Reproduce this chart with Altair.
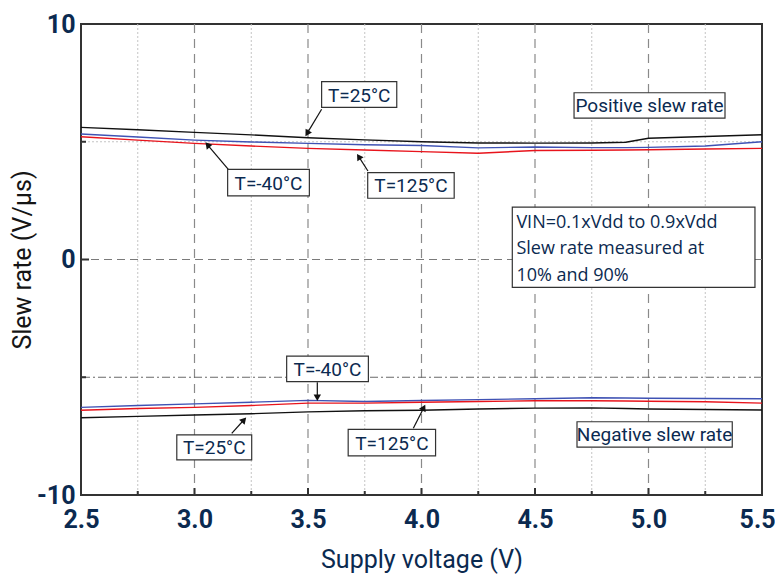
import math
import altair as alt
import pandas as pd

# ---------------- data ----------------
volts = [2.5, 2.75, 3.0, 3.25, 3.5, 3.75, 4.0, 4.25, 4.5, 4.75, 4.9, 5.0, 5.25, 5.5]

pos_25 = [5.61, 5.51, 5.40, 5.29, 5.17, 5.08, 5.00, 4.95, 4.94, 4.95, 4.98, 5.15, 5.22, 5.30]
pos_m40 = [5.33, 5.20, 5.07, 4.99, 4.93, 4.87, 4.84, 4.74, 4.78, 4.75, 4.75, 4.76, 4.82, 5.00]
pos_125 = [5.21, 5.07, 4.93, 4.82, 4.72, 4.65, 4.58, 4.51, 4.63, 4.64, 4.65, 4.66, 4.69, 4.72]

neg_25 = [-6.72, -6.66, -6.60, -6.55, -6.47, -6.42, -6.40, -6.35, -6.31, -6.30, -6.33, -6.35, -6.37, -6.39]
neg_m40 = [-6.28, -6.20, -6.13, -6.06, -5.98, -6.03, -5.99, -5.95, -5.91, -5.87, -5.88, -5.89, -5.90, -5.91]
neg_125 = [-6.40, -6.33, -6.28, -6.20, -6.10, -6.10, -6.06, -6.03, -6.00, -6.00, -6.01, -6.02, -6.04, -6.10]

temps = ["T=25°C", "T=-40°C", "T=125°C"]
temp_colors = ["#111111", "#3f52b4", "#e8141c"]

x_labels = [2.5, 3.0, 3.5, 4.0, 4.5, 5.0, 5.5]
x_minor = [2.75, 3.25, 3.75, 4.25, 4.75, 5.25]
x_major_grid = [3.0, 3.5, 4.0, 4.5, 5.0]
y_labels = [-10, 0, 10]
y_major_ticks = [-10, 0, 10]
y_minor_ticks = [-5, 5]

# annotation boxes: label, x1, x2, y1, y2 (data units)
box_text = ["T=25°C", "Positive slew rate", "T=125°C", "T=-40°C",
            "T=-40°C", "T=25°C", "T=125°C", "Negative slew rate"]
box_x1 = [3.560, 4.672, 3.763, 3.146, 3.406, 2.922, 3.677, 4.685]
box_x2 = [3.891, 5.337, 4.144, 3.506, 3.766, 3.252, 4.062, 5.369]
box_y1 = [7.55, 7.08, 3.69, 3.83, -4.10, -7.45, -7.21, -6.89]
box_y2 = [6.46, 6.00, 2.60, 2.70, -5.19, -8.51, -8.34, -7.97]

# arrows: start -> tip
arr_x1 = [3.560, 3.764, 3.149, 3.541, 3.164, 3.964]
arr_y1 = [6.38, 3.76, 3.83, -5.21, -7.38, -7.17]
arr_x2 = [3.487, 3.714, 3.046, 3.541, 3.230, 4.018]
arr_y2 = [5.21, 4.51, 5.00, -6.04, -6.68, -6.14]

note_lines = ["VIN=0.1xVdd to 0.9xVdd", "Slew rate measured at", "10% and 90%"]
note_y = [1.54, 0.46, -0.68]
note_x = 4.418
note_box = (4.400, 5.469, 2.22, -1.18)

# ---------------- layout ----------------
W, H = 681, 471
PX_X = W / 3.0
PX_Y = H / 20.0
NAVY = "#0b2a50"
FONT = "Roboto"

rows = []
for sign, series in (("pos", [pos_25, pos_m40, pos_125]), ("neg", [neg_25, neg_m40, neg_125])):
    for t, vals in zip(temps, series):
        for v, s in zip(volts, vals):
            rows.append({"V": v, "S": s, "T": t, "grp": sign + t})
df = pd.DataFrame(rows)

xs = alt.Scale(domain=[2.5, 5.5], nice=False, zero=False)
ys = alt.Scale(domain=[-10, 10], nice=False, zero=False)

X = alt.X("V:Q", scale=xs, axis=alt.Axis(
    values=x_labels, format=".1f", ticks=False, domain=False, grid=False,
    labelFont=FONT, labelFontSize=25, labelFontWeight="bold", labelColor=NAVY,
    labelPadding=12, labelFlush=False,
    labelAlign=alt.condition("datum.value == 5.5", alt.value("right"), alt.value("center")),
    labelOffset=alt.condition("datum.value == 5.5", alt.value(13), alt.value(0)),
    title="Supply voltage (V)", titleFont=FONT, titleFontSize=25,
    titleFontWeight="normal", titleColor=NAVY, titlePadding=15))
Y = alt.Y("S:Q", scale=ys, axis=alt.Axis(
    values=y_labels, ticks=False, domain=False, grid=False,
    labelExpr="datum.value < 0 ? '-' + abs(datum.value) : '' + datum.value",
    labelFont=FONT, labelFontSize=25, labelFontWeight="bold", labelColor=NAVY,
    labelPadding=6, labelFlush=False,
    title="Slew rate (V/µs)", titleFont=FONT, titleFontSize=25,
    titleFontWeight="normal", titleColor="#151515", titlePadding=1))

def vx(vals, name="V"):
    return pd.DataFrame({name: vals})

# grid
g_xminor = alt.Chart(vx(x_minor)).mark_rule(color="#c4c4c4", strokeDash=[2, 2], strokeWidth=1).encode(
    x=alt.X("V:Q", scale=xs))
g_xmajor = alt.Chart(vx(x_major_grid)).mark_rule(color="#8a8a8a", strokeDash=[9, 6], strokeWidth=1.2).encode(
    x=alt.X("V:Q", scale=xs))
g_y5 = alt.Chart(vx([5], "S")).mark_rule(color="#c4c4c4", strokeDash=[2, 2], strokeWidth=1).encode(
    y=alt.Y("S:Q", scale=ys))
g_y0 = alt.Chart(vx([0], "S")).mark_rule(color="#7a7a7a", strokeDash=[8, 5], strokeWidth=1.1).encode(
    y=alt.Y("S:Q", scale=ys))
g_ym5 = alt.Chart(vx([-5], "S")).mark_rule(color="#6a6a6a", strokeDash=[8, 3, 2, 3], strokeWidth=1.1).encode(
    y=alt.Y("S:Q", scale=ys))

# data lines
lines = alt.Chart(df).mark_line(strokeWidth=1.4).encode(
    x=X, y=Y,
    color=alt.Color("T:N", scale=alt.Scale(domain=temps, range=temp_colors), legend=None),
    detail="grp:N", order="V:Q")

# ticks (inward)
t_xmaj = alt.Chart(vx(x_labels)).mark_rule(color="#333333", strokeWidth=2).encode(
    x=alt.X("V:Q", scale=xs), y=alt.value(H), y2=alt.value(H - 7))
t_xmin = alt.Chart(vx(x_minor)).mark_rule(color="#333333", strokeWidth=2).encode(
    x=alt.X("V:Q", scale=xs), y=alt.value(H), y2=alt.value(H - 4))
t_ymaj = alt.Chart(vx(y_major_ticks, "S")).mark_rule(color="#333333", strokeWidth=2).encode(
    y=alt.Y("S:Q", scale=ys), x=alt.value(0), x2=alt.value(8))
t_ymin = alt.Chart(vx(y_minor_ticks, "S")).mark_rule(color="#333333", strokeWidth=2).encode(
    y=alt.Y("S:Q", scale=ys), x=alt.value(0), x2=alt.value(5))

# annotation boxes
bdf = pd.DataFrame({"txt": box_text, "x1": box_x1, "x2": box_x2, "y1": box_y1, "y2": box_y2})
bdf["xc"] = (bdf["x1"] + bdf["x2"]) / 2
bdf["yc"] = (bdf["y1"] + bdf["y2"]) / 2
boxes = alt.Chart(bdf).mark_rect(fill="white", stroke="#333333", strokeWidth=1.2).encode(
    x=alt.X("x1:Q", scale=xs), x2="x2:Q", y=alt.Y("y1:Q", scale=ys), y2="y2:Q")
box_txt = alt.Chart(bdf).mark_text(font=FONT, fontSize=19, color=NAVY, baseline="middle", align="center", dy=1).encode(
    x=alt.X("xc:Q", scale=xs), y=alt.Y("yc:Q", scale=ys), text="txt:N")

# note box
ndf = pd.DataFrame({"x1": [note_box[0]], "x2": [note_box[1]], "y1": [note_box[2]], "y2": [note_box[3]]})
note_rect = alt.Chart(ndf).mark_rect(fill="white", stroke="#333333", strokeWidth=1.2).encode(
    x=alt.X("x1:Q", scale=xs), x2="x2:Q", y=alt.Y("y1:Q", scale=ys), y2="y2:Q")
nldf = pd.DataFrame({"txt": note_lines, "y": note_y, "x": [note_x] * len(note_lines)})
note_txt = alt.Chart(nldf).mark_text(font="Open Sans", fontSize=18, color=NAVY, align="left", baseline="middle").encode(
    x=alt.X("x:Q", scale=xs), y=alt.Y("y:Q", scale=ys), text="txt:N")

# arrows
arows = []
for x1, y1, x2, y2 in zip(arr_x1, arr_y1, arr_x2, arr_y2):
    dxs = (x2 - x1) * PX_X
    dys = -(y2 - y1) * PX_Y
    ln = math.hypot(dxs, dys)
    ux, uy = dxs / ln, dys / ln
    ang = math.degrees(math.atan2(dxs, -dys)) % 360
    back = 4.0
    cx = x2 - back * ux / PX_X
    cy = y2 + back * uy / PX_Y
    arows.append({"x1": x1, "y1": y1, "cx": cx, "cy": cy, "ang": ang})
adf = pd.DataFrame(arows)
arr_lines = alt.Chart(adf).mark_rule(color="#111111", strokeWidth=1.2).encode(
    x=alt.X("x1:Q", scale=xs), y=alt.Y("y1:Q", scale=ys), x2="cx:Q", y2="cy:Q")
arr_heads = alt.Chart(adf).mark_point(shape="triangle-up", filled=True, color="#111111", size=55, opacity=1).encode(
    x=alt.X("cx:Q", scale=xs), y=alt.Y("cy:Q", scale=ys), angle=alt.Angle("ang:Q", scale=None))

chart = alt.layer(
    g_xminor, g_xmajor, g_y5, g_y0, g_ym5,
    lines,
    t_xmaj, t_xmin, t_ymaj, t_ymin,
    arr_lines, arr_heads,
    boxes, box_txt, note_rect, note_txt,
).properties(
    width=W, height=H,
    autosize=alt.AutoSizeParams(type="none"),
    padding={"left": 73, "top": 16, "right": 13, "bottom": 80},
).configure_view(stroke="#333333", strokeWidth=2)

chart.save("out.html", embed_options={"renderer": "svg", "actions": False})
